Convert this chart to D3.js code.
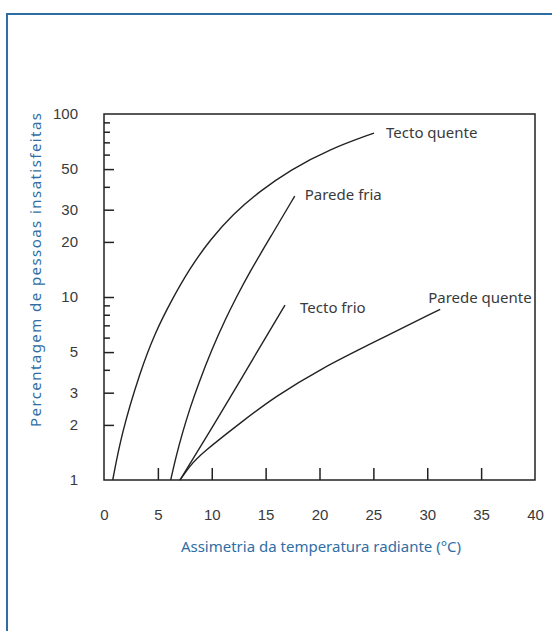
<!DOCTYPE html>
<html>
<head>
<meta charset="utf-8">
<script src="https://cdn.jsdelivr.net/npm/d3@7"></script>
<style>
  body { margin: 0; background: #fff; }
  svg { display: block; font-family: "Noto Sans", sans-serif; }
  .tick line { stroke: #222; stroke-width: 1.5; }
  .domain { display: none; }
</style>
</head>
<body>
<svg width="552" height="631"></svg>
<script>
// asymmetry (°C) and % dissatisfied
const tectoQuenteX = [0.81, 1.64, 3.34, 4.73, 6.28, 7.98, 9.84, 11.97, 14.48, 17.26, 20.97, 25.06];
const tectoQuenteY = [1, 1.81, 3.89, 6.36, 9.63, 14.4, 20.5, 28.4, 37.9, 49.4, 64.4, 78.7];
const paredeFriaX = [6.19, 6.68, 7.24, 7.98, 8.72, 10.02, 11.32, 12.25, 13.36, 15.5, 17.7];
const paredeFriaY = [1, 1.34, 1.78, 2.47, 3.3, 5.2, 7.68, 9.87, 13.2, 21.5, 35.6];
const tectoFrioX = [7.05, 9.68, 12.78, 14.94, 16.8];
const tectoFrioY = [1, 1.78, 3.61, 5.92, 9.04];
const paredeQuenteX = [7.05, 8.0, 9.07, 12.78, 15.87, 20.2, 25.15, 31.2];
const paredeQuenteY = [1, 1.2, 1.4, 2.08, 2.85, 4.08, 5.7, 8.57];

const seriesNames = ["Tecto quente", "Parede fria", "Tecto frio", "Parede quente"];
const yLabelTicks = [1, 2, 3, 5, 10, 20, 30, 50, 100];
const yMajorTicks = [2, 3, 5, 10, 20, 30, 50];
const yMinorTicks = [4, 6, 7, 8, 9, 40, 60, 70, 80, 90];
const xTicks = [0, 5, 10, 15, 20, 25, 30, 35, 40];

const svg = d3.select("svg");
const m = {left: 104, right: 535, top: 114, bottom: 480};

// outer blue frame (runs off the page right and bottom)
svg.append("path")
    .attr("d", "M7,640 L7,14 L560,14")
    .attr("fill", "none")
    .attr("stroke", "#2f6ea5")
    .attr("stroke-width", 2);

const x = d3.scaleLinear().domain([0, 40]).range([m.left, m.right]);
const y = d3.scaleLog().domain([1, 100]).range([m.bottom, m.top]);

// inner ticks
svg.append("g").attr("transform", `translate(${m.left},0)`)
    .call(d3.axisRight(y).tickValues(yMajorTicks).tickSize(10).tickFormat(""));
svg.append("g").attr("transform", `translate(${m.left},0)`)
    .call(d3.axisRight(y).tickValues(yMinorTicks).tickSize(6).tickFormat(""));
svg.append("g").attr("transform", `translate(0,${m.bottom})`)
    .call(d3.axisTop(x).tickValues(xTicks.slice(1, -1)).tickSize(12).tickFormat(""));

// tick labels
const yLab = svg.append("g").attr("transform", `translate(${m.left},0)`)
    .call(d3.axisLeft(y).tickValues(yLabelTicks).tickSize(0).tickPadding(26).tickFormat(d3.format("d")));
yLab.selectAll("text").attr("fill", "#3a3a3a").style("font-size", "15px");

const xLab = svg.append("g").attr("transform", `translate(0,${m.bottom})`)
    .call(d3.axisBottom(x).tickValues(xTicks).tickSize(0).tickPadding(29));
xLab.selectAll("text").attr("fill", "#3a3a3a").style("font-size", "15px");

// plot box
svg.append("rect")
    .attr("x", m.left).attr("y", m.top)
    .attr("width", m.right - m.left).attr("height", m.bottom - m.top)
    .attr("fill", "none").attr("stroke", "#222").attr("stroke-width", 1.5);

const line = d3.line()
    .x(d => x(d[0]))
    .y(d => y(d[1]))
    .curve(d3.curveBasis);

const curves = [
    d3.zip(tectoQuenteX, tectoQuenteY),
    d3.zip(paredeFriaX, paredeFriaY),
    d3.zip(tectoFrioX, tectoFrioY),
    d3.zip(paredeQuenteX, paredeQuenteY)
];

svg.append("g").selectAll("path")
    .data(curves)
    .join("path")
    .attr("d", line)
    .attr("fill", "none")
    .attr("stroke", "#222")
    .attr("stroke-width", 1.4);

// curve labels, placed just past the end of each curve
const labelOffsets = [[12, 5], [10, 4], [15, 8], [-12, -6]];
svg.append("g").selectAll("text")
    .data(curves)
    .join("text")
    .attr("x", (d, i) => x(d[d.length - 1][0]) + labelOffsets[i][0])
    .attr("y", (d, i) => y(d[d.length - 1][1]) + labelOffsets[i][1])
    .attr("fill", "#3a3a3a")
    .style("font-size", "15px")
    .text((d, i) => seriesNames[i]);

// axis titles
svg.append("text")
    .attr("x", 321)
    .attr("y", 552)
    .attr("text-anchor", "middle")
    .attr("fill", "#2f6ea5")
    .style("font-size", "15px")
    .text("Assimetria da temperatura radiante (°C)");

svg.append("text")
    .attr("transform", "translate(41,270) rotate(-90)")
    .attr("text-anchor", "middle")
    .attr("fill", "#2f6ea5")
    .style("font-size", "15px")
    .attr("textLength", 314)
    .attr("lengthAdjust", "spacing")
    .text("Percentagem de pessoas insatisfeitas");
</script>
</body>
</html>
